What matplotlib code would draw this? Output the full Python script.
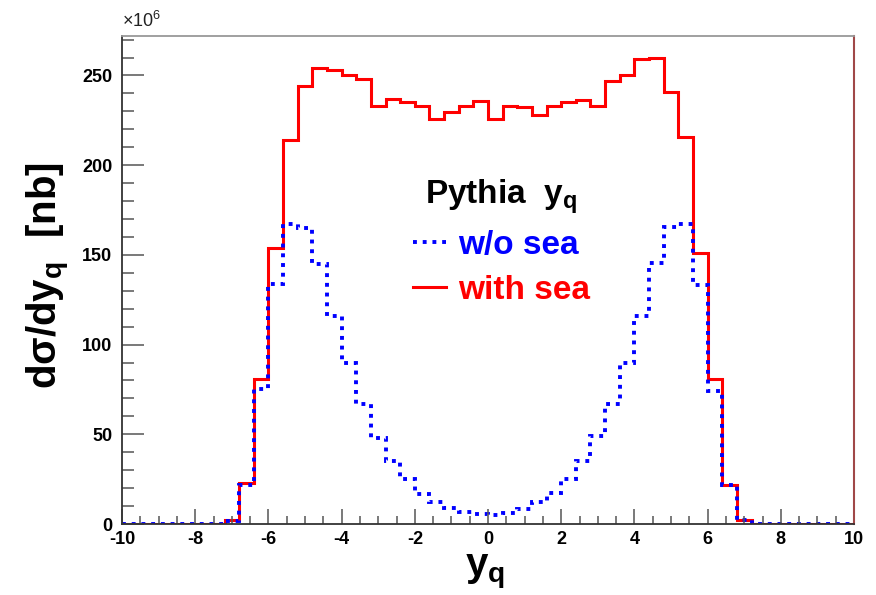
import numpy as np
import matplotlib.pyplot as plt
from matplotlib.lines import Line2D
from matplotlib.ticker import MultipleLocator

plt.rcParams['font.family'] = ['Liberation Sans', 'DejaVu Sans']
plt.rcParams['mathtext.fontset'] = 'custom'
plt.rcParams['mathtext.rm'] = 'Liberation Sans'
plt.rcParams['mathtext.bf'] = 'Liberation Sans:bold'
plt.rcParams['axes.unicode_minus'] = False

# 50 bins of width 0.4 between -10 and 10
bin_edges = np.round(np.arange(51) * 0.4 - 10, 1)

# d(sigma)/dy_q in units of 1e6 nb
with_sea = [0, 0, 0, 0, 0, 0, 0,
            2, 23, 81, 154, 214, 244, 254, 253, 250, 248, 233, 237,
            235, 233, 226, 229.5, 233, 235.7,
            226, 233, 232.5, 228, 233, 235, 236.5, 233, 247, 250,
            259, 259.7, 241, 215.7, 151, 81, 22, 2,
            0, 0, 0, 0, 0, 0, 0]
without_sea = [0, 0, 0, 0, 0, 0, 0,
               1.5, 22, 75, 134, 167, 165, 145, 116, 90, 67, 48, 35,
               25, 17, 12, 8.7, 6.5, 5.6,
               5.0, 6.3, 8.2, 12.3, 17.5, 25, 35, 49, 67, 90,
               116, 145.5, 165.6, 167, 133, 74, 22, 2,
               0, 0, 0, 0, 0, 0, 0]

fig = plt.figure(figsize=(8.76, 5.95), dpi=100)
ax = fig.add_axes([0.1393, 0.1193, 0.8356, 0.8202])

ax.stairs(with_sea, bin_edges, color='red', lw=2.2)
ax.stairs(without_sea, bin_edges, color='blue', lw=2.8,
          linestyle=(0, (1, 1.5)))

ax.set_xlim(-10, 10)
ax.set_ylim(0, 272)

ax.xaxis.set_major_locator(MultipleLocator(2))
ax.xaxis.set_minor_locator(MultipleLocator(0.5))
ax.yaxis.set_major_locator(MultipleLocator(50))
ax.yaxis.set_minor_locator(MultipleLocator(10))
ax.tick_params(which='both', direction='in', color='#555555', width=1.1,
               labelsize=13)
ax.tick_params(axis='x', which='major', length=11, pad=5)
ax.tick_params(axis='x', which='minor', length=6)
ax.tick_params(axis='y', which='major', length=16, pad=7)
ax.tick_params(axis='y', which='minor', length=8.5)
for lab in ax.get_xticklabels() + ax.get_yticklabels():
    lab.set_fontweight('bold')

for side in ['left', 'bottom']:
    ax.spines[side].set_color('#333333')
    ax.spines[side].set_linewidth(1.3)
ax.spines['top'].set_color('#999999')
ax.spines['top'].set_linewidth(1.3)
ax.spines['right'].set_color('#a04848')
ax.spines['right'].set_linewidth(1.5)

ax.set_xlabel('y$_\\mathbf{q}$', fontsize=29, fontweight='bold')
ax.xaxis.set_label_coords(0.496, -0.058)
ax.set_ylabel('dσ/dy$_\\mathbf{q}$  [nb]', fontsize=29, fontweight='bold')
ax.yaxis.set_label_coords(-0.068, 0.51)

ax.text(0.0, 1.01, '×10$^{6}$', transform=ax.transAxes, fontsize=13,
        ha='left', va='bottom', color='#222222')

handles = [Line2D([], [], color='blue', lw=2.8, linestyle=(0, (1, 1.5))),
           Line2D([], [], color='red', lw=2.2)]
leg = ax.legend(handles, ['w/o sea', 'with sea'],
                title='Pythia  y$_\\mathbf{q}$', frameon=False,
                loc='upper left', bbox_to_anchor=(0.397, 0.711),
                prop={'weight': 'bold', 'size': 24},
                title_fontproperties={'weight': 'bold', 'size': 24},
                handlelength=1.0, handletextpad=0.35, labelspacing=0.42,
                borderaxespad=0, borderpad=0)
for txt, col in zip(leg.get_texts(), ['blue', 'red']):
    txt.set_color(col)

fig.savefig('out.png', dpi=100)
